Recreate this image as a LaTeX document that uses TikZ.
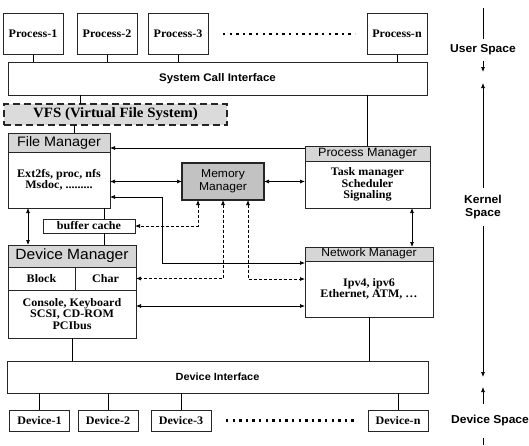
\documentclass[tikz,border=0pt]{standalone}
\usepackage{fontspec}
\setmainfont[FakeStretch=1.05]{Liberation Serif}
\setsansfont[FakeStretch=1.05]{Liberation Sans}
\usetikzlibrary{positioning, arrows.meta}

\newcommand{\srf}[1]{\fontsize{#1}{11.5}\selectfont\bfseries}
\newcommand{\snf}[1]{\fontsize{#1}{13}\selectfont\sffamily}
\newcommand{\snfb}[1]{\fontsize{#1}{13}\selectfont\sffamily\bfseries}

\begin{document}
\begin{tikzpicture}[x=1pt, y=-1pt, on grid, node distance=70pt,
    >={Latex[length=5pt, width=4pt]},
    box/.style={draw=black!85, line width=0.8pt, inner sep=1pt, outer sep=0pt,
                align=center, font=\srf{11.5}},
    proc/.style={box, minimum width=60, minimum height=41},
    dev/.style={box, minimum width=60, minimum height=21},
    bar/.style={box, font=\snfb{11}, minimum height=33},
    hdr/.style={box, fill=black!16, inner sep=0.5pt, font=\snf{12}},
    mgr/.style={box, anchor=north},
    spacelbl/.style={font=\snfb{11.5}, align=center, inner sep=6pt},
    dotrow/.style={line width=2.4pt, dash pattern=on 2.4pt off 4.2pt},
    conn/.style={line width=0.7pt},
    dconn/.style={line width=0.7pt, dash pattern=on 3pt off 2pt}]

    \useasboundingbox (0,0) rectangle (529,445);

    % user processes
    \node[proc] (p1) at (33,34) {Process-1};
    \node[proc] (p2) [right=74pt of p1] {Process-2};
    \node[proc] (p3) [right=71pt of p2] {Process-3};
    \node[proc] (pn) [right=219pt of p3] {Process-n};
    \draw[dotrow] ([xshift=15pt]p3.east) -- ([xshift=-12pt]pn.west);

    \node[bar, minimum width=419] (sci) at (217.5,78.5) {System Call Interface};
    \node[box, fill=black!14, line width=1.8pt, dash pattern=on 7pt off 4pt,
          minimum width=223, minimum height=21, font=\srf{14.2}] (vfs) at (115.5,114.5)
          {VFS (Virtual File System)};

    % kernel managers
    \node[hdr, minimum width=102, minimum height=19, font=\snf{13.7}] (fmh) at (59,142.5) {File Manager};
    \node[mgr, minimum width=102, minimum height=56] (fmb) at (fmh.south)
          {Ext2fs, proc, nfs\\Msdoc, .........};

    \node[box, fill=black!24, line width=1.3pt, minimum width=82, minimum height=37,
          font=\snf{11.5}] (mm) at (223,181.5) {Memory\\Manager};

    \node[hdr, minimum width=125, minimum height=15] (pmh) at (367.5,153.5) {Process Manager};
    \node[mgr, minimum width=125, minimum height=47] (pmb) at (pmh.south)
          {Task manager\\Scheduler\\Signaling};

    \node[hdr, minimum width=128, minimum height=14, font=\snf{11.5}] (nmh) at (369,254) {Network Manager};
    \node[mgr, minimum width=128, minimum height=56] (nmb) at (nmh.south)
          {Ipv4, ipv6\\Ethernet, ATM, \dots};

    \node[box, minimum width=92, minimum height=14] (bc) at (89,226) {buffer cache};

    \node[hdr, minimum width=128, minimum height=22, font=\snf{14.8}] (dmh) at (72,256) {Device Manager};
    \node[box, anchor=north west, minimum width=67, minimum height=23] (blk) at (dmh.south west) {Block};
    \node[box, anchor=north east, minimum width=61, minimum height=23] (chr) at (dmh.south east) {Char};
    \node[mgr, minimum width=128, minimum height=48] (dmb) at (dmh.south |- blk.south)
          {Console, Keyboard\\SCSI, CD-ROM\\PCIbus};

    \node[bar, minimum width=421, minimum height=32, font=\snfb{10.4}] (di) at (217.5,377) {Device Interface};

    % devices
    \node[dev] (d1) at (39.5,420.5) {Device-1};
    \node[dev] (d2) [right=68.5pt of d1] {Device-2};
    \node[dev] (d3) [right=73pt of d2] {Device-3};
    \node[dev] (dn) [right=217pt of d3] {Device-n};
    \draw[dotrow] ([xshift=15pt]d3.east) -- ([xshift=-13pt]dn.west);

    % connections
    \foreach \p in {p1,p2,p3,pn}
        \draw[conn] (\p) -- (\p |- sci.north);
    \draw[conn] ([xshift=-35.5pt]vfs.north) -- ([xshift=-35.5pt]vfs.north |- sci.south);
    \draw[conn] ([xshift=15pt]fmh.north) -- ([xshift=15pt]fmh.north |- vfs.south);
    \draw[conn] (pmh.north) -- (pmh.north |- sci.south);

    \draw[conn, ->] ([yshift=5.5pt]pmh.west) -- ([yshift=5.5pt]pmh.west -| fmh.east);
    \draw[conn, <->] (fmb.east |- mm.west) -- (mm.west);
    \draw[conn, <->] (mm.east) -- (mm.east -| pmb.west);
    \draw[conn, <->] ([yshift=-17pt]fmb.east) -- ++(52,0) |- ([yshift=26pt]nmb.west);
    \draw[dconn, <->] ([xshift=-25pt]mm.south) |- (bc.east);
    \draw[dconn, <->] (mm.south) |- (chr.east);
    \draw[dconn, <->] ([xshift=25pt]mm.south) |- ([yshift=10pt]nmb.west);
    \draw[conn, <->] ([yshift=8pt]dmb.east) -- ([yshift=8pt]dmb.east -| nmb.west);
    \draw[conn, <->] ([xshift=44.5pt]pmb.south) -- ([xshift=44.5pt]pmb.south |- nmh.north);
    \draw[conn, <->] ([xshift=-31pt]fmb.south) -- ([xshift=-31pt]fmb.south |- dmh.north);
    \draw[conn] ([xshift=15pt]bc.north) -- ([xshift=15pt]bc.north |- fmb.south);
    \draw[conn] ([xshift=15pt]bc.south) -- ([xshift=15pt]bc.south |- dmh.north);

    \draw[conn] (dmb.south) -- (dmb.south |- di.north);
    \draw[conn] (nmb.south) -- (nmb.south |- di.north);
    \foreach \d in {d1,d2,d3,dn}
        \draw[conn] (\d) -- (\d |- di.south);

    % spaces
    \node[spacelbl] (us) at (483,50) {User Space};
    \node[spacelbl, inner ysep=7pt] (ks) at (483,207) {Kernel\\Space};
    \node[spacelbl, inner ysep=11pt] (ds) at (490,421) {Device Space};
    \coordinate (ax1) at (483,8);
    \coordinate (uk1) at (483,72);
    \coordinate (uk2) at (483,83);
    \coordinate (kd1) at (483,377);
    \coordinate (kd2) at (483,387);
    \coordinate (ax2) at (483,445);

    \draw[conn] (ax1) -- (us);
    \draw[conn, ->] (us) -- (uk1);
    \draw[conn, ->] (ks) -- (uk2);
    \draw[conn, ->] (ks) -- (kd1);
    \draw[conn, ->] (ds.north -| kd2) -- (kd2);
    \draw[conn] (ds.south -| ax2) -- (ax2);

\end{tikzpicture}
\end{document}
